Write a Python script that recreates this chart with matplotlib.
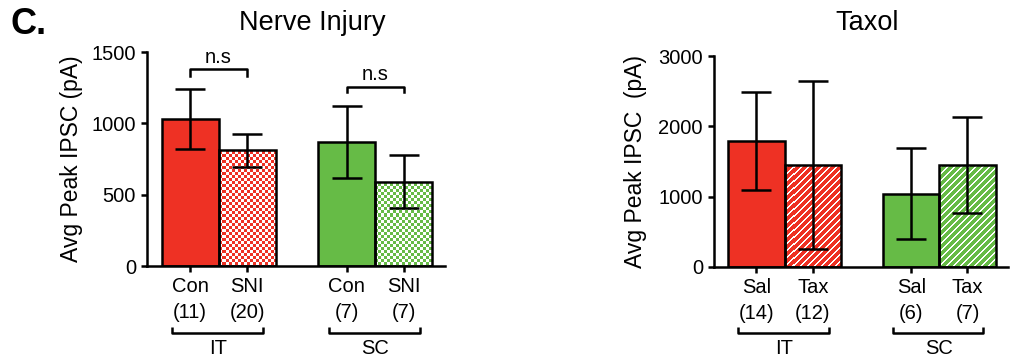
import matplotlib
matplotlib.use("Agg")
import matplotlib.pyplot as plt
import matplotlib.transforms as mtransforms
import numpy as np

plt.rcParams['font.family'] = ['Liberation Sans', 'DejaVu Sans']

# data
pos = [0, 1, 2.75, 3.75]
nerve_labels = ["Con\n(11)", "SNI\n(20)", "Con\n(7)", "SNI\n(7)"]
nerve_mean = [1030, 810, 870, 590]
nerve_sem = [210, 117, 250, 185]
taxol_labels = ["Sal\n(14)", "Tax\n(12)", "Sal\n(6)", "Tax\n(7)"]
taxol_mean = [1790, 1450, 1045, 1448]
taxol_sem = [695, 1193, 650, 681]
groups = ["IT", "SC"]

RED = (238/255, 49/255, 36/255)
GREEN = (102/255, 187/255, 70/255)
colors = [RED, RED, GREEN, GREEN]
W, H = 1010, 362
LW = 1.8
FS = 14.5

fig = plt.figure(figsize=(W/100, H/100), dpi=100)


def texture(ax, bar, kind, color):
    bb = ax.get_position()
    w = int(round(bb.width * W))
    h = int(round(bb.height * H))
    r, c = np.mgrid[0:h, 0:w]
    if kind == 'checker':
        white = ((r // 3 + c // 3) % 2) == 0
    else:
        white = ((r + c) % 7) < 2
    img = np.empty((h, w, 3))
    img[:] = color
    img[white] = (1, 1, 1)
    x0, x1 = ax.get_xlim()
    y0, y1 = ax.get_ylim()
    im = ax.imshow(img, extent=(x0, x1, y0, y1), origin='upper',
                   interpolation='nearest', aspect='auto', zorder=2.5)
    im.set_clip_path(bar)


def panel(rect, labels, mean, sem, ymax, yticks, kind, ylabel, lpad):
    ax = fig.add_axes(rect)
    ax.set_xlim(-0.755, 4.47)
    ax.set_ylim(0, ymax)
    bars = ax.bar(pos, mean, width=1.0, color=colors, edgecolor='none', zorder=2)
    for i in (1, 3):
        texture(ax, bars[i], kind, colors[i])
    ax.bar(pos, mean, width=1.0, fill=False, edgecolor='black', linewidth=LW, zorder=3)
    ax.errorbar(pos, mean, yerr=sem, fmt='none', ecolor='black', elinewidth=LW,
                capsize=10.5, capthick=LW, zorder=4)
    for s in ('top', 'right'):
        ax.spines[s].set_visible(False)
    for s in ('left', 'bottom'):
        ax.spines[s].set_linewidth(LW)
    ax.set_yticks(yticks)
    ax.set_xticks(pos)
    ax.set_xticklabels(labels, linespacing=1.45)
    shift = mtransforms.ScaledTranslation(-3/100, 0, fig.dpi_scale_trans)
    for lab in ax.get_xticklabels():
        lab.set_transform(lab.get_transform() + shift)
    ax.tick_params(length=4.5, width=LW, labelsize=FS, pad=3.5)
    ax.set_ylabel(ylabel, fontsize=16.5, labelpad=lpad)
    # group brackets under the labels
    tr = ax.get_xaxis_transform()
    for g, (a, b) in zip(groups, [(pos[0], pos[1]), (pos[2], pos[3])]):
        xl, xr = a - 0.32, b + 0.28
        ax.plot([xl, xl, xr, xr], [-0.285, -0.315, -0.315, -0.285], color='black',
                lw=LW, transform=tr, clip_on=False, solid_capstyle='butt')
        ax.text((a + b) / 2, -0.385, g, transform=tr, ha='center', va='center',
                fontsize=FS)
    return ax


ax1 = panel([147/W, 1 - 266/H, 298/W, 214/H], nerve_labels, nerve_mean, nerve_sem,
            1500, [0, 500, 1000, 1500], 'checker', "Avg Peak IPSC (pA)", 6)
ax2 = panel([714/W, 1 - 267/H, 294/W, 211/H], taxol_labels, taxol_mean, taxol_sem,
            3000, [0, 1000, 2000, 3000], 'stripe', "Avg Peak IPSC  (pA)", 8)

# n.s brackets
for (a, b), top, leg in [((pos[0], pos[1]), 1378, 1335), ((pos[2], pos[3]), 1258, 1218)]:
    xl, xr = a, b
    ax1.plot([xl, xl, xr, xr], [leg, top, top, leg], color='black', lw=LW,
             clip_on=False, zorder=5)
    ax1.text((a + b) / 2, top + 18, "n.s", ha='center', va='bottom', fontsize=FS)

fig.text(312/W, 1 - 23/H, "Nerve Injury", ha='center', va='center', fontsize=19.5)
fig.text(867/W, 1 - 23/H, "Taxol", ha='center', va='center', fontsize=19.5)
fig.text(11/W, 1 - 24/H, "C.", ha='left', va='center', fontsize=26, fontweight='bold')

fig.savefig("out.png", dpi=100)
